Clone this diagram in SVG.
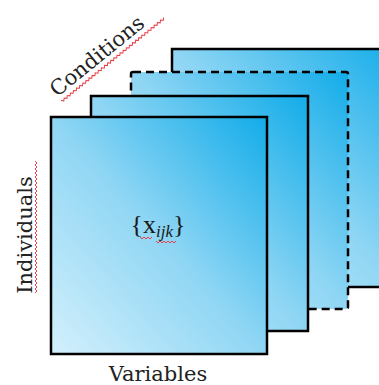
<svg xmlns="http://www.w3.org/2000/svg" width="379" height="385" viewBox="0 0 379 385">
<defs>
<linearGradient id="g" x1="0" y1="1" x2="1" y2="0">
<stop offset="0" stop-color="#d3f0fc"/>
<stop offset="0.5" stop-color="#8fd6f4"/>
<stop offset="1" stop-color="#12ace9"/>
</linearGradient>
<style>
.sheet{fill:url(#g);stroke:#000;stroke-width:2.5}
.dash{stroke-dasharray:8 5}
.lbl{font-family:"DejaVu Serif","Liberation Serif",serif;font-size:21px;fill:#222}
.sq{fill:none;stroke:#e8404a;stroke-width:1}
</style>
</defs>
<g id="sheet4"><rect class="sheet" x="172" y="49" width="230" height="238"/></g>
<g id="sheet3"><rect class="sheet dash" x="131" y="72" width="217" height="237" rx="2"/></g>
<g id="sheet2"><rect class="sheet" x="91" y="96" width="217" height="235"/></g>
<g id="sheet1"><rect class="sheet" x="51" y="117" width="216" height="237"/>
<text x="158" y="233" text-anchor="middle" font-family="'Liberation Serif',serif" font-size="26" fill="#1a1a1a">{x<tspan font-style="italic" font-size="17" dy="4">ijk</tspan><tspan dy="-4">}</tspan></text>
<path class="sq" d="M140 237 l2 2 l2 -2 l2 2 l2 -2 l2 2 l2 -2 M156 241 l2 2 l2 -2 l2 2 l2 -2 l2 2 l2 -2 l2 2 l2 -2 l2 2 l2 -2"/>
</g>
<g id="conditions" transform="translate(97,56) rotate(-39)">
<text class="lbl" x="0" y="7" text-anchor="middle">Conditions</text>
<path class="sq" d="M-56 12 l2 2 l2 -2 l2 2 l2 -2 l2 2 l2 -2 l2 2 l2 -2 l2 2 l2 -2 l2 2 l2 -2 l2 2 l2 -2 l2 2 l2 -2 l2 2 l2 -2 l2 2 l2 -2 l2 2 l2 -2 l2 2 l2 -2 l2 2 l2 -2 l2 2 l2 -2 l2 2 l2 -2 l2 2 l2 -2 l2 2 l2 -2 l2 2 l2 -2 l2 2 l2 -2 l2 2 l2 -2 l2 2 l2 -2 l2 2 l2 -2 l2 2 l2 -2 l2 2 l2 -2 l2 2 l2 -2 l2 2 l2 -2 l2 2 l2 -2 l2 2 l2 -2 l2 2 l2 -2 l2 2 l2 -2 l2 2 l2 -2 l2 2 l2 -2 l2 2 l2 -2"/>
</g>
<g id="individuals" transform="translate(25,235) rotate(-90)">
<text class="lbl" x="0" y="7" text-anchor="middle">Individuals</text>
<path class="sq" d="M-58 10 l2 2 l2 -2 l2 2 l2 -2 l2 2 l2 -2 l2 2 l2 -2 l2 2 l2 -2 l2 2 l2 -2 l2 2 l2 -2 l2 2 l2 -2 l2 2 l2 -2 l2 2 l2 -2 l2 2 l2 -2 l2 2 l2 -2 l2 2 l2 -2 l2 2 l2 -2 l2 2 l2 -2 l2 2 l2 -2 l2 2 l2 -2 l2 2 l2 -2 l2 2 l2 -2 l2 2 l2 -2 l2 2 l2 -2 l2 2 l2 -2 l2 2 l2 -2 l2 2 l2 -2 l2 2 l2 -2 l2 2 l2 -2 l2 2 l2 -2 l2 2 l2 -2 l2 2 l2 -2 l2 2 l2 -2 l2 2 l2 -2 l2 2 l2 -2 l2 2 l2 -2"/>
</g>
<g id="variables"><text class="lbl" x="158" y="381" text-anchor="middle">Variables</text></g>
</svg>
